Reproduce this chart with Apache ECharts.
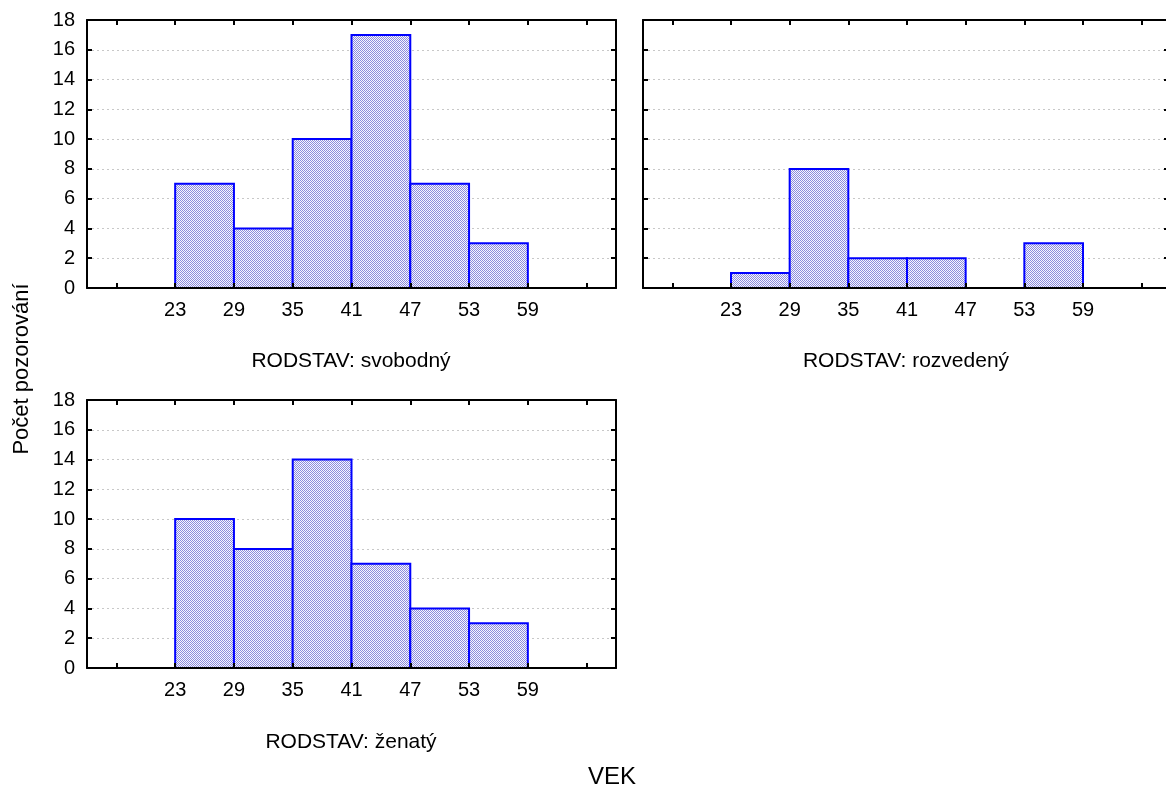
<!DOCTYPE html>
<html>
<head>
<meta charset="utf-8">
<script src="https://cdn.jsdelivr.net/npm/echarts@6/dist/echarts.min.js"></script>
<style>
html,body{margin:0;padding:0;background:#fff;}
#chart{width:1166px;height:790px;}
</style>
</head>
<body>
<div id="chart"></div>
<script>
// ---- data ----
const binStarts = [17, 23, 29, 35, 41, 47, 53, 59];
const binWidth = 6;
const countsSvobodny = [0, 7, 4, 10, 17, 7, 3, 0];
const countsRozvedeny = [0, 1, 8, 2, 2, 0, 3, 0];
const countsZenaty = [0, 10, 8, 14, 7, 4, 3, 0];
const panelTitles = ['RODSTAV: svobodný', 'RODSTAV: rozvedený', 'RODSTAV: ženatý'];
const xTickValues = [17, 23, 29, 35, 41, 47, 53, 59, 65];
const xLabelValues = [23, 29, 35, 41, 47, 53, 59];
const xTitle = 'VEK';
const yTitle = 'Počet pozorování';

// ---- pattern fill ----
const pc = document.createElement('canvas');
pc.width = 2; pc.height = 2;
const pctx = pc.getContext('2d');
pctx.fillStyle = '#f6f6ff'; pctx.fillRect(0, 0, 2, 2);
pctx.fillStyle = '#8c8cdc';
pctx.fillRect(0, 0, 1, 1); pctx.fillRect(1, 1, 1, 1);
const patternFill = { image: pc, repeat: 'repeat' };

const FONT = 'Liberation Sans, Arial, sans-serif';
const grids = [
  { left: 87, top: 20, width: 529, height: 268, outerBoundsMode: 'none', containLabel: false },
  { left: 643, top: 20, width: 528, height: 268, outerBoundsMode: 'none', containLabel: false },
  { left: 87, top: 400, width: 529, height: 268, outerBoundsMode: 'none', containLabel: false }
];
const allCounts = [countsSvobodny, countsRozvedeny, countsZenaty];

const axisLineStyle = { color: '#000', width: 2 };
const xAxes = [], yAxes = [], series = [];
grids.forEach((g, i) => {
  ['bottom', 'top'].forEach(pos => {
    xAxes.push({
      gridIndex: i, type: 'value', min: 14, max: 68, position: pos, z: 5,
      axisLine: { show: true, onZero: false, lineStyle: axisLineStyle },
      axisTick: { show: true, inside: true, length: 5, customValues: xTickValues, lineStyle: axisLineStyle },
      axisLabel: pos === 'bottom'
        ? { show: true, customValues: xLabelValues, fontSize: 20, color: '#000', margin: 12, fontFamily: FONT }
        : { show: false },
      splitLine: { show: false }
    });
  });
  ['left', 'right'].forEach(pos => {
    const offCanvas = (pos === 'right' && i === 1);
    yAxes.push({
      gridIndex: i, type: 'value', min: 0, max: 18, interval: 2, position: pos,
      z: pos === 'right' ? 5 : 0,
      axisLine: { show: !offCanvas, onZero: false, lineStyle: axisLineStyle },
      axisTick: { show: true, inside: true, length: offCanvas ? 7 : 5, lineStyle: axisLineStyle },
      axisLabel: (pos === 'left' && i !== 1)
        ? { show: true, fontSize: 20, color: '#000', margin: 12, fontFamily: FONT }
        : { show: false },
      splitLine: pos === 'left'
        ? { show: true, lineStyle: { type: [2, 3], color: '#c8c8c8', width: 1 } }
        : { show: false }
    });
  });
  series.push({
    type: 'custom',
    xAxisIndex: i * 2, yAxisIndex: i * 2,
    z: 2,
    data: binStarts.map((s, k) => [s, s + binWidth, allCounts[i][k]]),
    renderItem: function (params, api) {
      const p0 = api.coord([api.value(0), api.value(2)]);
      const p1 = api.coord([api.value(1), 0]);
      return {
        type: 'rect',
        shape: { x: p0[0], y: p0[1], width: p1[0] - p0[0], height: p1[1] - p0[1] },
        style: { fill: patternFill, stroke: '#0000ff', lineWidth: 2 }
      };
    }
  });
});

const textStyleBase = { fill: '#000', fontFamily: FONT, textAlign: 'center', textVerticalAlign: 'middle' };
const graphics = [
  { type: 'text', x: 351, y: 361, style: Object.assign({ text: panelTitles[0], fontSize: 21 }, textStyleBase) },
  { type: 'text', x: 906, y: 361, style: Object.assign({ text: panelTitles[1], fontSize: 21 }, textStyleBase) },
  { type: 'text', x: 351, y: 742, style: Object.assign({ text: panelTitles[2], fontSize: 21 }, textStyleBase) },
  { type: 'text', x: 612, y: 777, style: Object.assign({ text: xTitle, fontSize: 24 }, textStyleBase) },
  { type: 'text', x: 22, y: 369, rotation: Math.PI / 2, style: Object.assign({ text: yTitle, fontSize: 22 }, textStyleBase) }
];

const chart = echarts.init(document.getElementById('chart'), null, { renderer: 'canvas' });
chart.setOption({
  animation: false,
  backgroundColor: '#fff',
  grid: grids,
  xAxis: xAxes,
  yAxis: yAxes,
  series: series,
  graphic: graphics
});
</script>
</body>
</html>
